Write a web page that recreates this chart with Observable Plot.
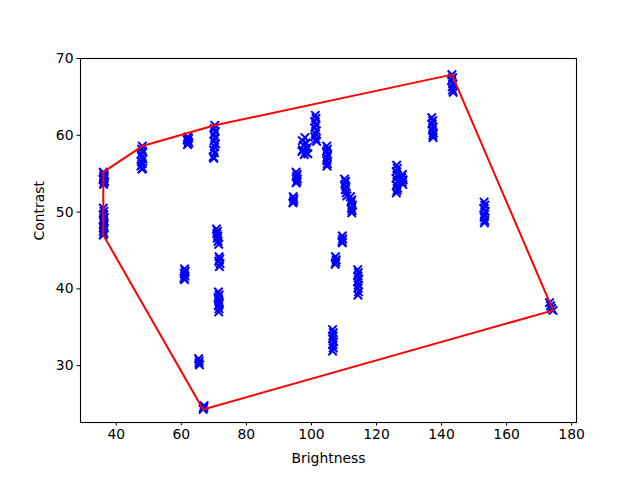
<!DOCTYPE html>
<html>
<head>
<meta charset="utf-8">
<script src="https://cdn.jsdelivr.net/npm/d3@7"></script>
<script src="https://cdn.jsdelivr.net/npm/@observablehq/plot@0.6"></script>
<style>
  html, body { margin: 0; padding: 0; background: white; }
</style>
</head>
<body>
<div id="chart"></div>
<script>
// Brightness / Contrast samples, listed cluster by cluster
const brightness = [
  36.0, 36.2, 36.1, 36.3, 36.0, 36.4, 36.2, 36.1, 36.3, 36.0,
  36.0, 36.2, 36.1, 36.3, 36.0, 36.2, 36.1, 36.3, 36.0, 36.2, 36.0, 36.1,
  48.0, 47.8, 48.1, 47.6, 47.9, 48.2, 47.7, 48.0, 47.6, 48.1, 47.9,
  62.0, 62.2, 61.8, 62.1, 62.3, 61.9, 62.0,
  70.3, 70.1, 70.4, 70.0, 70.3, 70.1, 70.5, 70.2, 69.9, 70.2, 69.8, 70.0,
  61.0, 61.2, 60.9, 61.1, 60.8, 61.0,
  70.8, 71.1, 70.9, 71.2, 71.0, 71.3, 71.5,
  71.6, 71.8, 71.5, 71.9, 71.7,
  71.4, 71.6, 71.3, 71.5, 71.7, 71.4, 71.6, 71.5,
  65.3, 65.5, 65.4, 65.6,
  66.7, 66.9, 67.0, 66.8,
  94.4, 94.6, 94.5, 94.3,
  95.3, 95.6, 95.4, 95.7, 95.5, 95.3,
  98.0, 97.2, 98.4, 97.5, 98.7, 97.3, 98.2, 97.8, 98.9, 97.1,
  101.2, 101.4, 101.0, 101.3, 101.1, 101.5, 101.2, 101.0, 101.4, 101.6,
  104.7, 104.9, 104.6, 105.0, 104.8, 104.7, 104.9, 104.8,
  110.2, 110.5, 110.3, 110.6, 110.4, 110.7, 110.9,
  112.0, 112.4, 112.2, 112.6, 112.3, 112.5, 112.4,
  109.5, 109.6, 109.4, 109.5,
  107.4, 107.6, 107.5, 107.3,
  114.2, 114.4, 114.3, 114.5, 114.2, 114.4, 114.3, 114.5, 114.3,
  106.5, 106.7, 106.6, 106.5, 106.8, 106.6, 106.7, 106.5,
  126.2, 126.4, 126.1, 126.3, 126.0, 126.4, 126.2, 126.5, 126.3, 126.1,
  128.0, 127.8, 128.2, 127.9, 128.1,
  137.0, 137.3, 137.1, 137.4, 137.2, 137.5, 137.3, 137.4,
  143.2, 143.4, 143.1, 143.5, 143.3, 143.4, 143.6,
  153.1, 153.3, 153.0, 153.4, 153.2, 153.1, 153.3, 153.2,
  174.3, 173.8, 173.5, 173.2, 173.7
];
const contrast = [
  55.2, 54.9, 54.6, 54.4, 54.2, 54.0, 53.8, 53.6, 54.7, 54.3,
  50.5, 50.1, 49.7, 49.3, 49.0, 48.6, 48.2, 47.9, 47.5, 47.2, 47.0, 48.8,
  58.6, 58.2, 57.9, 57.5, 57.2, 56.9, 56.6, 56.3, 56.0, 55.7, 55.6,
  59.8, 59.6, 59.4, 59.2, 59.0, 58.8, 59.5,
  61.3, 60.9, 60.5, 60.1, 59.7, 59.3, 58.9, 58.5, 58.1, 57.7, 57.2, 57.0,
  42.6, 42.3, 42.0, 41.7, 41.4, 41.2,
  47.8, 47.5, 47.2, 46.9, 46.6, 46.2, 45.8,
  44.2, 43.9, 43.6, 43.3, 42.9,
  39.6, 39.2, 38.9, 38.5, 38.1, 37.8, 37.4, 37.0,
  30.9, 30.6, 30.3, 30.1,
  24.3, 24.6, 24.8, 24.5,
  52.0, 51.7, 51.4, 51.2,
  55.2, 54.9, 54.6, 54.3, 54.0, 53.8,
  59.7, 59.3, 59.0, 58.7, 58.4, 58.1, 57.8, 57.5, 57.6, 57.9,
  62.6, 62.2, 61.8, 61.4, 61.0, 60.6, 60.2, 59.8, 59.5, 59.2,
  58.6, 58.2, 57.9, 57.5, 57.1, 56.7, 56.3, 56.0,
  54.3, 54.0, 53.6, 53.3, 52.9, 52.5, 52.1,
  52.0, 51.6, 51.3, 50.9, 50.5, 50.2, 49.9,
  46.9, 46.5, 46.2, 46.0,
  44.2, 43.8, 43.5, 43.2,
  42.5, 42.1, 41.7, 41.3, 40.9, 40.5, 40.1, 39.6, 39.2,
  34.7, 34.3, 33.9, 33.5, 33.1, 32.7, 32.3, 31.9,
  56.1, 55.7, 55.3, 54.8, 54.4, 54.0, 53.5, 53.1, 52.8, 52.5,
  54.9, 54.5, 54.2, 53.9, 53.6,
  62.3, 61.9, 61.5, 61.1, 60.7, 60.3, 60.0, 59.7,
  67.9, 67.5, 67.1, 66.7, 66.3, 65.9, 65.6,
  51.3, 50.9, 50.5, 50.1, 49.7, 49.3, 48.9, 48.6,
  37.2, 37.5, 37.8, 38.2, 37.4
];
const xTicks = [40, 60, 80, 100, 120, 140, 160, 180];
const yTicks = [30, 40, 50, 60, 70];
const xLabel = "Brightness";
const yLabel = "Contrast";

const points = brightness.map((b, i) => ({b, c: contrast[i]}));
const hull = d3.polygonHull(points.map(p => [p.b, p.c]));
const hullClosed = [...hull, hull[0]];

const chart = Plot.plot({
  width: 640,
  height: 480,
  marginLeft: 80,
  marginRight: 64,
  marginTop: 58,
  marginBottom: 58,
  style: {fontFamily: "'DejaVu Sans', sans-serif", fontSize: "13.9px", background: "white", color: "black"},
  x: {domain: [29.0, 181.5]},
  y: {domain: [22.6, 70.0]},
  marks: [
    Plot.dot(points, {x: "b", y: "c", symbol: "times", r: 3.9, stroke: "#0000ff", strokeWidth: 2}),
    Plot.line(hullClosed, {x: d => d[0], y: d => d[1], stroke: "#ff0000", strokeWidth: 2}),
    Plot.frame({stroke: "black", strokeWidth: 1.1}),
    Plot.axisX({ticks: xTicks, tickSize: 3.5, tickPadding: 3.5, label: null, fontSize: 13.9}),
    Plot.axisY({ticks: yTicks, tickSize: 3.5, tickPadding: 3.5, label: null, fontSize: 13.9}),
    Plot.text([xLabel], {text: d => d, frameAnchor: "bottom", dy: 40, fontSize: 13.9}),
    Plot.text([yLabel], {text: d => d, frameAnchor: "left", dx: -41, rotate: -90, fontSize: 13.9})
  ]
});
document.getElementById("chart").appendChild(chart);
</script>
</body>
</html>
